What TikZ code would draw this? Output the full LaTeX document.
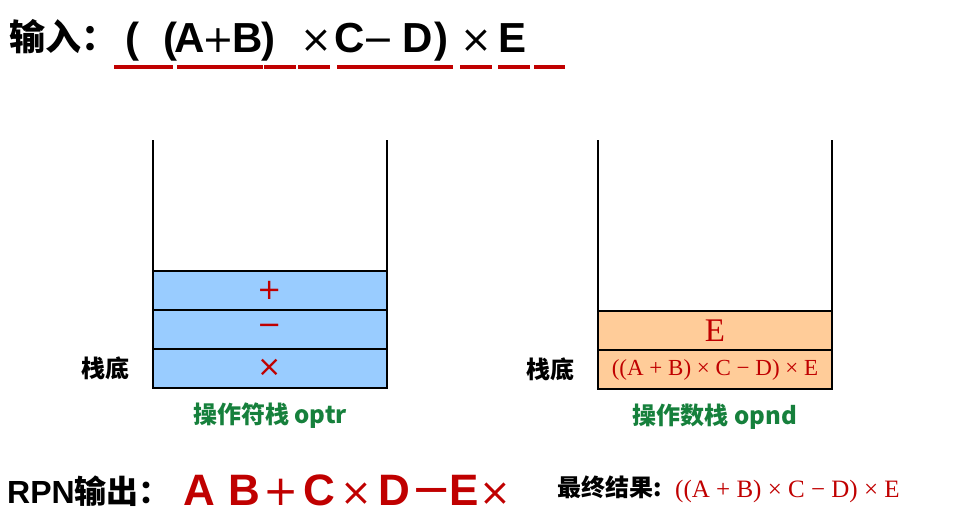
\documentclass[tikz,border=0pt]{standalone}
\usepackage{fontspec}
\usetikzlibrary{positioning}
\setmainfont{Liberation Serif}
\newfontfamily\cjk{Noto Sans CJK SC}
\newfontfamily\latin{Liberation Sans}
\newfontfamily\symb{DejaVu Sans}
\definecolor{darkred}{RGB}{192,0,0}
\definecolor{optrblue}{RGB}{153,204,255}
\definecolor{opndpeach}{RGB}{255,204,153}
\definecolor{labgreen}{RGB}{22,128,60}

\tikzset{
	cell/.style={draw, line width=2pt, outer sep=0pt, inner sep=0pt, minimum width=234pt, minimum height=39pt, text=darkred},
	optrcell/.style={cell, fill=optrblue, font=\symb\fontsize{29}{29}\selectfont},
	opndcell/.style={cell, fill=opndpeach},
	wall/.style={line width=2pt},
	bottomlabel/.style={inner sep=0pt, font=\cjk\bfseries\fontsize{24}{24}\selectfont},
	stackname/.style={inner sep=0pt, text=labgreen, font=\cjk\bfseries\fontsize{24}{24}\selectfont},
	intok/.style={inner sep=0pt, anchor=base, font=\latin\bfseries\fontsize{42}{42}\selectfont},
	insym/.style={inner sep=0pt, anchor=base, font=\symb\fontsize{38}{38}\selectfont},
	outtok/.style={inner sep=0pt, anchor=base, text=darkred, font=\latin\bfseries\fontsize{44}{44}\selectfont},
	outsym/.style={inner sep=0pt, anchor=base, text=darkred, font=\symb\fontsize{38}{38}\selectfont},
	tokmark/.style={draw=darkred, line width=3.5pt}
}

\begin{document}
\begin{tikzpicture}[x=1pt, y=-1pt]
	\useasboundingbox (0,0) rectangle (958,522);

	% input line
	\node[inner sep=0pt, anchor=base west, font=\cjk\bfseries\fontsize{36}{36}\selectfont] (inlabel) at (9,50) {输入：};
	\foreach \x/\t [count=\i] in {132/{(},170/{(},190/A,248/B,268/{)},350/C,418/D,441/{)},513/E}
		\node[intok] (in\i) at (\x,52) {\t};
	\foreach \x/\t [count=\i] in {218/+,316/×,378/−,476/×}
		\node[insym] (is\i) at (\x,52) {\t};

	% red marks under the input
	\foreach \a/\b [count=\i] in {114/173,177/263,264/296,298/330,337/453,460/492,498/530,534/565} {
		\coordinate (ma\i) at (\a,67);
		\coordinate (mb\i) at (\b,67);
		\draw[tokmark] (ma\i) -- (mb\i);
	}

	% operator stack
	\node[optrcell] (o1) at (270,290) {\raisebox{-4pt}{+}};
	\node[optrcell, below=0pt of o1] (o2) {\raisebox{-1pt}{−}};
	\node[optrcell, below=0pt of o2] (o3) {\raisebox{-2pt}{×}};
	\coordinate (owl) at (153,140);
	\coordinate (owr) at (387,140);
	\draw[wall] (owl) -- (o1.north west);
	\draw[wall] (owr) -- (o1.north east);
	\node[bottomlabel, left=23pt of o3] (obot) {栈底};
	\node[stackname, below=15pt of o3] (oname) {操作符栈 optr};

	% operand stack
	\node[opndcell, font=\fontsize{33}{33}\selectfont] (n1) at (715,330.5) {E};
	\node[opndcell, below=0pt of n1, font=\fontsize{23}{23}\selectfont] (n2) {((A + B) × C − D) × E};
	\coordinate (nwl) at (598,140);
	\coordinate (nwr) at (832,140);
	\draw[wall] (nwl) -- (n1.north west);
	\draw[wall] (nwr) -- (n1.north east);
	\node[bottomlabel, left=23pt of n2] (nbot) {栈底};
	\node[stackname, below=15pt of n2] (nname) {操作数栈 opnd};

	% RPN output
	\node[inner sep=0pt, anchor=base west] (outlabel) at (7,503) {{\latin\bfseries\fontsize{32}{32}\selectfont RPN}{\cjk\bfseries\fontsize{32}{32}\selectfont 输出：}};
	\foreach \x/\t [count=\i] in {199/A,244/B,319/C,394/D,464/E}
		\node[outtok] (out\i) at (\x,505) {\t};
	\foreach \x/\t [count=\i] in {281/{\fontsize{42}{42}\selectfont +},356/×,432/{\fontsize{48}{48}\selectfont −},495/×}
		\node[outsym] (os\i) at (\x,505) {\t};

	% final result
	\node[bottomlabel, anchor=base west] (reslabel) at (557,496) {最终结果:};
	\node[inner sep=0pt, anchor=base west, text=darkred, font=\fontsize{25}{25}\selectfont] (result) at (675,497) {((A + B) × C − D) × E};
\end{tikzpicture}
\end{document}
